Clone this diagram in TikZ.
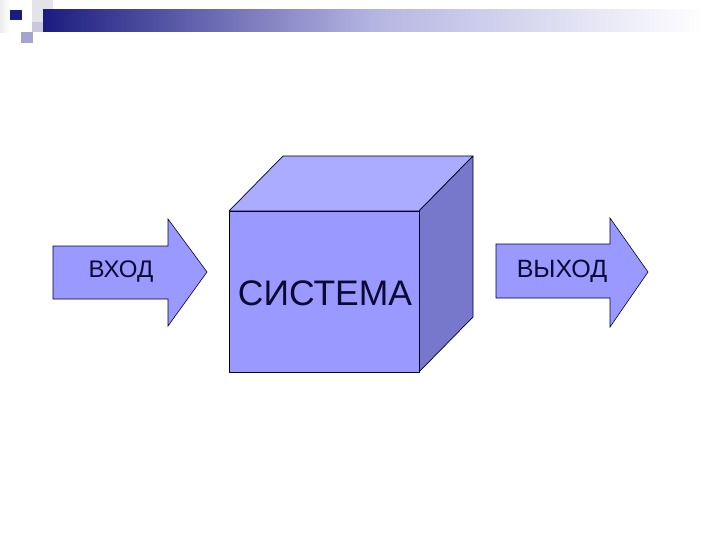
\documentclass[tikz,border=0pt]{standalone}
\usepackage{fontspec}
\setmainfont{Liberation Sans}
\begin{document}
\begin{tikzpicture}[x=1pt,y=-1pt,
  face/.style={draw=black!85!blue, line width=0.7pt, line join=round},
  arrowshape/.style={fill=arrowfill, draw=black!80!blue, line width=0.6pt, line join=miter},
  lbl/.style={text=txt, inner sep=0pt}]
\definecolor{arrowfill}{HTML}{9999FF}
\definecolor{frontc}{HTML}{9999FF}
\definecolor{topc}{HTML}{ABABFF}
\definecolor{sidec}{HTML}{7777CC}
\definecolor{txt}{HTML}{0A0A33}
\definecolor{navy}{HTML}{1C1C80}
\useasboundingbox (0,0) rectangle (720,540);
\fill[white] (0,0) rectangle (720,540);
% header decoration
\shade[left color=gray!15, right color=white] (0,0) rectangle (10,33);
\fill[blue!10!gray!20] (32,0) rectangle (53,22);
\fill[blue!20!gray!35] (32,22) rectangle (43,32);
\fill[blue!30!gray!55] (21,32) rectangle (33,43);
\fill[navy] (10,10) rectangle (22,20);
\shade[left color=navy, right color=white, middle color=gray!55!blue!40] (43,10) rectangle (705,32);
% input arrow
\draw[arrowshape] (53,246) -- (168,246) -- (168,219) -- (207,272) -- (168,326) -- (168,299) -- (53,299) -- cycle;
\node[lbl, font=\fontsize{24}{24}\selectfont] (in) at (121,272) {ВХОД};
% cube
\draw[face, fill=topc] (229,211) -- (283,156) -- (473,156) -- (419,211) -- cycle;
\draw[face, fill=sidec] (419,211) -- (473,156) -- (473,317) -- (419,372) -- cycle;
\draw[face, fill=frontc] (229,211) rectangle (419,372);
\node[lbl, font=\fontsize{35.5}{35.5}\selectfont] (sys) at (325,293) {СИСТЕМА};
% output arrow
\draw[arrowshape] (496,244) -- (610,244) -- (610,218) -- (648,272) -- (610,327) -- (610,298) -- (496,298) -- cycle;
\node[lbl, font=\fontsize{25}{25}\selectfont] (out) at (562,271) {ВЫХОД};
\end{tikzpicture}
\end{document}
